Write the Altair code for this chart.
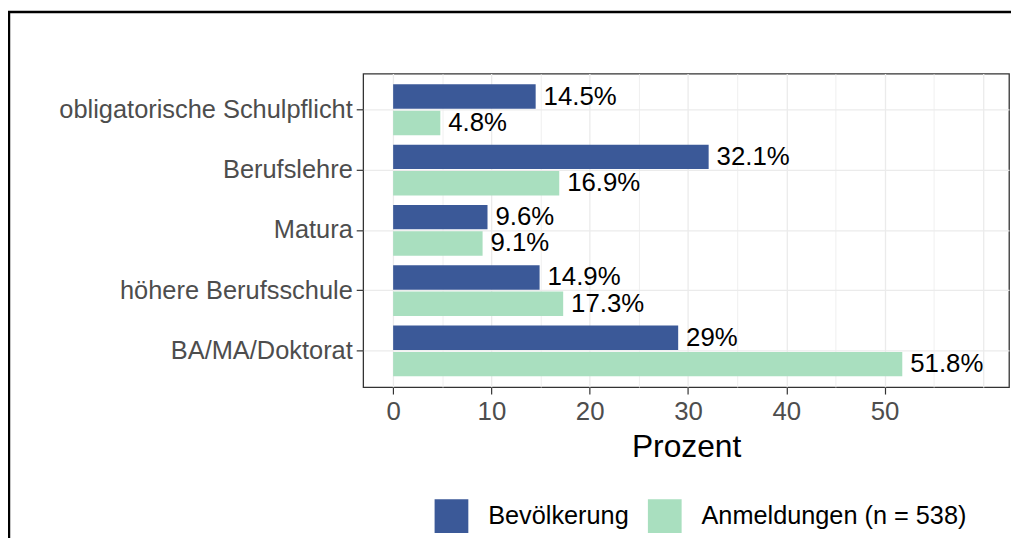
import altair as alt
import pandas as pd

categories = ["obligatorische Schulpflicht", "Berufslehre", "Matura", "höhere Berufsschule", "BA/MA/Doktorat"]
series = ["Bevölkerung", "Anmeldungen (n = 538)"]
bevoelkerung = [14.5, 32.1, 9.6, 14.9, 29]
anmeldungen = [4.8, 16.9, 9.1, 17.3, 51.8]
colors = ["#3B5998", "#A9DFBF"]
x_ticks = [0, 5, 10, 15, 20, 25, 30, 35, 40, 45, 50, 55, 60]

rows = []
for cat, b, a in zip(categories, bevoelkerung, anmeldungen):
    rows.append({"Kategorie": cat, "Gruppe": series[0], "Wert": b, "Label": f"{b:g}%"})
    rows.append({"Kategorie": cat, "Gruppe": series[1], "Wert": a, "Label": f"{a:g}%"})
df = pd.DataFrame(rows)

FONT = "Liberation Sans"

y_enc = alt.Y(
    "Kategorie:N",
    sort=categories,
    scale=alt.Scale(paddingInner=0, paddingOuter=0.1),
    axis=alt.Axis(
        title=None,
        labelFontSize=25.6,
        labelColor="#4D4D4D",
        labelFont=FONT,
        labelPadding=4,
        tickSize=7,
        tickColor="#333333",
        tickWidth=1.2,
        tickBand="center",
        grid=True,
        gridColor="#EBEBEB",
        gridWidth=1.2,
        domain=False,
        labelLimit=400,
    ),
)
yoff_enc = alt.YOffset(
    "Gruppe:N", sort=series, scale=alt.Scale(paddingInner=0.075, paddingOuter=0.18)
)
x_scale = alt.Scale(domain=[-3.05, 62.66], nice=False, zero=False)

base = alt.Chart(df).encode(y=y_enc, yOffset=yoff_enc)

bars = base.mark_bar().encode(
    x=alt.X(
        "Wert:Q",
        scale=x_scale,
        axis=alt.Axis(
            title="Prozent",
            values=x_ticks,
            labelExpr="(datum.value % 10 == 0 && datum.value <= 50) ? datum.label : ''",
            labelFontSize=26,
            labelColor="#4D4D4D",
            labelFont=FONT,
            labelPadding=5,
            labelFlush=False,
            labelOverlap=False,
            tickSize=7,
            tickColor="#333333",
            tickWidth=1.2,
            tickOpacity={"condition": {"test": "datum.value % 10 == 0 && datum.value <= 50", "value": 1}, "value": 0},
            grid=True,
            gridColor="#EBEBEB",
            gridWidth={"condition": {"test": "datum.value % 10 == 0", "value": 1.3}, "value": 0.8},
            domain=False,
            titleFontSize=32,
            titleFont=FONT,
            titleColor="black",
            titleFontWeight="normal",
            titlePadding=7,
        ),
    ),
    color=alt.Color(
        "Gruppe:N",
        scale=alt.Scale(domain=series, range=colors),
        legend=alt.Legend(
            orient="none",
            legendX=72,
            legendY=429,
            direction="horizontal",
            title=None,
            symbolType="square",
            symbolSize=1156,
            symbolStrokeWidth=0,
            symbolOpacity=1,
            labelFontSize=25.5,
            labelFont=FONT,
            labelColor="black",
            labelOffset=20,
            columnPadding=19,
            padding=0,
            labelLimit=400,
        ),
    ),
)

text = base.mark_text(
    align="left", baseline="middle", dx=8, fontSize=26, font=FONT, color="black"
).encode(x=alt.X("Wert:Q", scale=x_scale), text="Label:N")

frame = alt.Chart(alt.Data(values=[{}])).mark_rect(
    fill="white", fillOpacity=0, stroke="black", strokeWidth=2.5
).encode(
    x=alt.value(-357), x2=alt.value(800), y=alt.value(-62), y2=alt.value(700)
)

chart = (
    alt.layer(frame, bars, text)
    .properties(
        width=651,
        height=316,
        padding={"left": 358, "top": 64, "right": 2, "bottom": 150},
        autosize=alt.AutoSizeParams(type="none"),
    )
    .configure_view(stroke="#333333", strokeWidth=1.3)
)

chart.save("out.html", embed_options={"renderer": "svg", "actions": False})
